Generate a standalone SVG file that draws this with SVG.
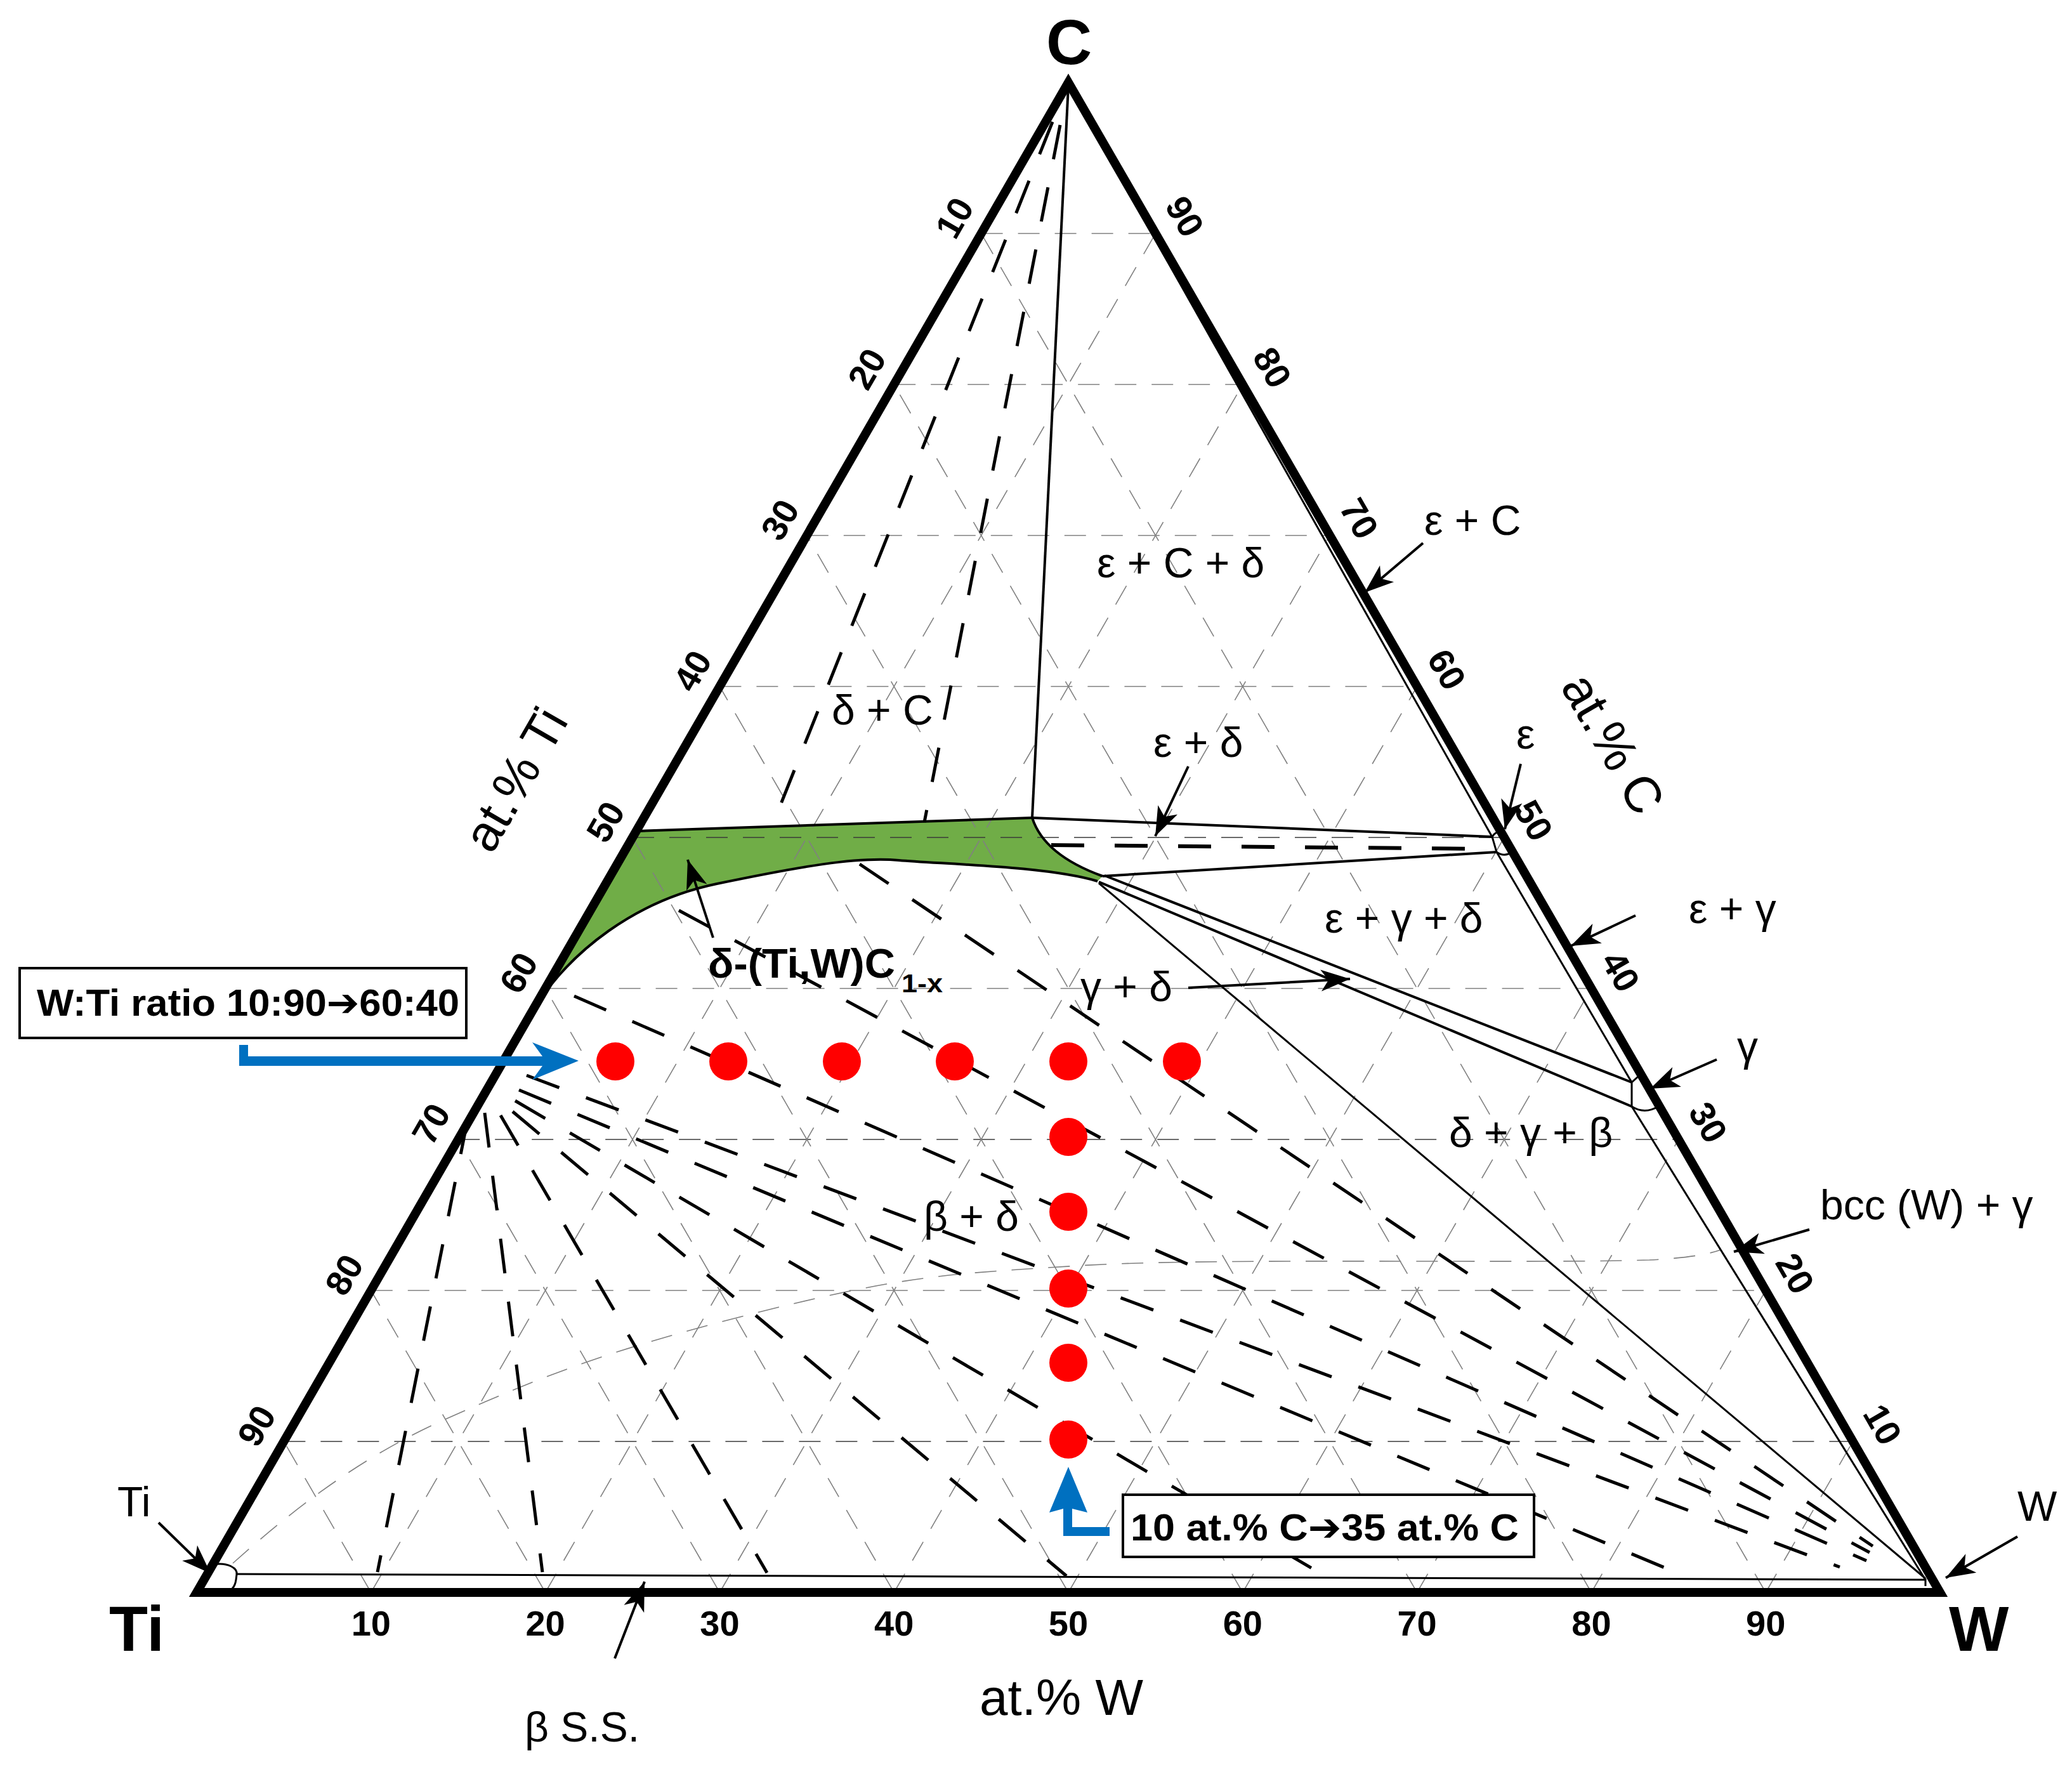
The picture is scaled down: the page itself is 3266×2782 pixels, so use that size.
<svg xmlns="http://www.w3.org/2000/svg" width="3266" height="2782" viewBox="0 0 3266 2782">
<style>
text{font-family:"Liberation Sans",Arial,"DejaVu Sans",sans-serif;fill:#000}
.grid line,.grid path{stroke:#808080;stroke-width:1.6;stroke-dasharray:34 24;fill:none}
.grid line.dk{stroke:#3a3a3a}
.tie{stroke:#000;stroke-width:5;stroke-dasharray:55 45;fill:none}
.thin{stroke:#000;stroke-width:3;fill:none}
.med{stroke:#000;stroke-width:4;fill:none}
.ptr{stroke:#000;stroke-width:4;fill:none;marker-end:url(#ah)}
.ph{font-size:66px}
.tk{font-size:56px;font-weight:bold;text-anchor:middle}
.ax{font-size:80px;text-anchor:middle}
.corner{font-size:100px;font-weight:bold}
.dot{fill:#ff0000}
.blue{fill:#0070c0}
.box{fill:#fff;stroke:#000;stroke-width:4}
.bt{font-size:60px;font-weight:bold}
</style>
<defs>
<marker id="ah" markerUnits="userSpaceOnUse" viewBox="-50 -20 55 40" markerWidth="55" markerHeight="40" refX="0" refY="0" orient="auto">
<path d="M0,0 L-46,-17 L-34,0 L-46,17 Z" fill="#000"/>
</marker>
</defs>
<rect width="3266" height="2782" fill="#fff"/>

<g id="delta-region">
<path d="M1003,1310 L1627,1289 C1640,1330 1680,1360 1738,1381 L1730,1389 C1650,1365 1484,1362 1417,1356 C1350,1350 1260,1366 1130,1393 C1000,1420 900,1500 845,1585 Z" fill="#70ad47"/>
</g>

<g id="grid" class="grid">
<line class="dk" x1="447.4" y1="2272" x2="2920.6" y2="2272"/>
<line x1="584.8" y1="2034" x2="2783.2" y2="2034"/>
<line class="dk" x1="722.2" y1="1796" x2="2645.8" y2="1796"/>
<line x1="859.6" y1="1558" x2="2508.4" y2="1558"/>
<line class="dk" x1="997" y1="1320" x2="2371" y2="1320"/>
<line x1="1134.4" y1="1082" x2="2233.6" y2="1082"/>
<line x1="1271.8" y1="844" x2="2096.2" y2="844"/>
<line x1="1409.2" y1="606" x2="1958.8" y2="606"/>
<line x1="1546.6" y1="368" x2="1821.4" y2="368"/>
<line x1="584.8" y1="2510" x2="1821.4" y2="368"/>
<line x1="859.6" y1="2510" x2="1958.8" y2="606"/>
<line x1="1134.4" y1="2510" x2="2096.2" y2="844"/>
<line x1="1409.2" y1="2510" x2="2233.6" y2="1082"/>
<line x1="1684" y1="2510" x2="2371" y2="1320"/>
<line x1="1958.8" y1="2510" x2="2508.4" y2="1558"/>
<line x1="2233.6" y1="2510" x2="2645.8" y2="1796"/>
<line x1="2508.4" y1="2510" x2="2783.2" y2="2034"/>
<line x1="2783.2" y1="2510" x2="2920.6" y2="2272"/>
<line x1="584.8" y1="2510" x2="447.4" y2="2272"/>
<line x1="859.6" y1="2510" x2="584.8" y2="2034"/>
<line x1="1134.4" y1="2510" x2="722.2" y2="1796"/>
<line x1="1409.2" y1="2510" x2="859.6" y2="1558"/>
<line x1="1684" y1="2510" x2="997" y2="1320"/>
<line x1="1958.8" y1="2510" x2="1134.4" y2="1082"/>
<line x1="2233.6" y1="2510" x2="1271.8" y2="844"/>
<line x1="2508.4" y1="2510" x2="1409.2" y2="606"/>
<line x1="2783.2" y1="2510" x2="1546.6" y2="368"/>
<path d="M367,2464 C450,2390 560,2300 702,2237 C844,2174 950,2130 1193,2069 C1436,2008 1500,2008 1700,1995 C1900,1982 2400,1992 2600,1986 Q2680,1982 2712,1970"/>
</g>

<g id="connectors">
<line class="tie" x1="1659" y1="192" x2="1217" y2="1302"/>
<line class="tie" x1="1671" y1="197" x2="1457" y2="1296"/>
<line class="tie" x1="737" y1="1765" x2="595" y2="2478"/>
<line class="tie" x1="764" y1="1754" x2="855" y2="2478"/>
<line class="tie" x1="789" y1="1758" x2="1209" y2="2479"/>
<line class="tie" x1="808" y1="1752" x2="1681" y2="2484"/>
<line class="tie" x1="812" y1="1735" x2="2085" y2="2482"/>
<line class="tie" x1="818" y1="1718" x2="2660" y2="2486"/>
<line class="tie" x1="830" y1="1695" x2="2900" y2="2470"/>
<line class="tie" x1="905" y1="1570" x2="2942" y2="2460"/>
<line class="tie" x1="1070" y1="1435" x2="2947" y2="2447"/>
<line class="tie" x1="1355" y1="1362" x2="2952" y2="2437"/>
<line x1="1657" y1="1332" x2="2352" y2="1338" stroke="#000" stroke-width="6" stroke-dasharray="52 48"/>
<line class="med" x1="1684" y1="135" x2="1627" y2="1289"/>
<path class="med" d="M1003,1310 L1627,1289" stroke-width="5"/>
<path class="med" d="M1627,1289 C1640,1330 1680,1360 1738,1381"/>
<path class="med" d="M1730,1389 C1650,1365 1484,1362 1417,1356 C1350,1350 1260,1366 1130,1393 C1000,1420 900,1500 845,1585"/>
<line class="med" x1="1627" y1="1289" x2="2352" y2="1319"/>
<line class="med" x1="1738" y1="1381" x2="2359" y2="1343"/>
<line class="med" x1="1741" y1="1380" x2="2572" y2="1706"/>
<line class="med" x1="1732" y1="1390" x2="2572" y2="1744"/>
<line class="thin" x1="1732" y1="1392" x2="3035" y2="2488"/>
<line class="thin" x1="1684" y1="135" x2="2352" y2="1319"/>
<line class="thin" x1="2359" y1="1343" x2="2572" y2="1706"/>
<line class="thin" x1="2572" y1="1744" x2="3035" y2="2490"/>
<path class="thin" d="M2368,1310 Q2356,1311 2352,1319 L2359,1343 Q2372,1352 2384,1342"/>
<path class="thin" d="M2582,1697 L2572,1706 L2572,1744 Q2592,1757 2614,1744"/>
<line class="thin" x1="373" y1="2481" x2="3035" y2="2490"/>
<path class="thin" d="M335,2466 C360,2462 375,2472 373,2482 L372,2490 C371,2497 368,2502 366,2504"/>
<path class="thin" d="M3035,2488 L3035,2500"/>
<line class="ptr" x1="2243" y1="856" x2="2151" y2="934"/>
<line class="ptr" x1="2397" y1="1204" x2="2372" y2="1307"/>
<line class="ptr" x1="1873" y1="1208" x2="1821" y2="1318"/>
<line class="ptr" x1="2578" y1="1443" x2="2476" y2="1491"/>
<line class="ptr" x1="2706" y1="1670" x2="2601" y2="1716"/>
<line class="ptr" x1="1873" y1="1557" x2="2128" y2="1543"/>
<line class="ptr" x1="2852" y1="1938" x2="2733" y2="1973"/>
<line class="ptr" x1="250" y1="2400" x2="332" y2="2480"/>
<line class="ptr" x1="3180" y1="2422" x2="3067" y2="2487"/>
<line class="ptr" x1="969" y1="2614" x2="1016" y2="2493"/>
<line class="ptr" x1="1124" y1="1478" x2="1084" y2="1355"/>
</g>

<g id="triangle">
<polygon points="310,2510 3058,2510 1684,130" fill="none" stroke="#000" stroke-width="14" stroke-linejoin="miter"/>
</g>

<g id="ticks">
<text class="tk" transform="translate(1504,343) rotate(-60)" y="20">10</text>
<text class="tk" transform="translate(1366,581) rotate(-60)" y="20">20</text>
<text class="tk" transform="translate(1229,819) rotate(-60)" y="20">30</text>
<text class="tk" transform="translate(1091,1057) rotate(-60)" y="20">40</text>
<text class="tk" transform="translate(954,1295) rotate(-60)" y="20">50</text>
<text class="tk" transform="translate(817,1533) rotate(-60)" y="20">60</text>
<text class="tk" transform="translate(679,1771) rotate(-60)" y="20">70</text>
<text class="tk" transform="translate(542,2009) rotate(-60)" y="20">80</text>
<text class="tk" transform="translate(404,2247) rotate(-60)" y="20">90</text>
<text class="tk" transform="translate(2968,2245) rotate(60)" y="20">10</text>
<text class="tk" transform="translate(2830,2007) rotate(60)" y="20">20</text>
<text class="tk" transform="translate(2693,1769) rotate(60)" y="20">30</text>
<text class="tk" transform="translate(2555,1531) rotate(60)" y="20">40</text>
<text class="tk" transform="translate(2418,1293) rotate(60)" y="20">50</text>
<text class="tk" transform="translate(2281,1055) rotate(60)" y="20">60</text>
<text class="tk" transform="translate(2143,817) rotate(60)" y="20">70</text>
<text class="tk" transform="translate(2006,579) rotate(60)" y="20">80</text>
<text class="tk" transform="translate(1868,341) rotate(60)" y="20">90</text>
<text class="tk" x="584.8" y="2578">10</text>
<text class="tk" x="859.6" y="2578">20</text>
<text class="tk" x="1134.4" y="2578">30</text>
<text class="tk" x="1409.2" y="2578">40</text>
<text class="tk" x="1684" y="2578">50</text>
<text class="tk" x="1958.8" y="2578">60</text>
<text class="tk" x="2233.6" y="2578">70</text>
<text class="tk" x="2508.4" y="2578">80</text>
<text class="tk" x="2783.2" y="2578">90</text>
</g>

<g id="axis-titles">
<text class="ax" transform="translate(812,1228) rotate(-60)" y="28">at.% Ti</text>
<text class="ax" transform="translate(2543,1172) rotate(60)" y="28">at.% C</text>
<text class="ax" x="1673" y="2703">at.% W</text>
</g>

<g id="corners">
<text class="corner" x="1685" y="101" text-anchor="middle">C</text>
<text class="corner" x="172" y="2602">Ti</text>
<text class="corner" x="3072" y="2602">W</text>
</g>

<g id="phase-labels">
<text class="ph" x="1729" y="910">ε + C + δ</text>
<text class="ph" x="1311" y="1142">δ + C</text>
<text class="ph" x="1818" y="1193">ε + δ</text>
<text class="ph" x="2245" y="843">ε + C</text>
<text class="ph" x="2390" y="1180">ε</text>
<text class="ph" x="2662" y="1455">ε + γ</text>
<text class="ph" x="2088" y="1470">ε + γ + δ</text>
<text class="ph" x="1703" y="1578">γ + δ</text>
<text class="ph" x="2738" y="1672">γ</text>
<text class="ph" x="2284" y="1808">δ + γ + β</text>
<text class="ph" x="2869" y="1922">bcc (W) + γ</text>
<text class="ph" x="1456" y="1940">β + δ</text>
<text class="ph" x="185" y="2390">Ti</text>
<text class="ph" x="3180" y="2397">W</text>
<text class="ph" x="827" y="2745">β S.S.</text>
</g>

<g id="delta-label">
<text x="1116" y="1541" font-size="64" font-weight="bold" textLength="295" lengthAdjust="spacingAndGlyphs">δ-(Ti,W)C</text>
<text x="1421" y="1564" font-size="40" font-weight="bold" textLength="65" lengthAdjust="spacingAndGlyphs">1-x</text>
</g>

<g id="samples">
<circle class="dot" cx="970" cy="1673" r="30"/>
<circle class="dot" cx="1148" cy="1673" r="30"/>
<circle class="dot" cx="1327" cy="1673" r="30"/>
<circle class="dot" cx="1505" cy="1673" r="30"/>
<circle class="dot" cx="1684" cy="1673" r="30"/>
<circle class="dot" cx="1863" cy="1673" r="30"/>
<circle class="dot" cx="1684" cy="1792" r="30"/>
<circle class="dot" cx="1684" cy="1910" r="30"/>
<circle class="dot" cx="1684" cy="2031" r="30"/>
<circle class="dot" cx="1684" cy="2148" r="30"/>
<circle class="dot" cx="1684" cy="2269" r="30"/>
</g>

<g id="ratio-box">
<rect class="box" x="31" y="1526" width="704" height="110"/>
<text class="bt" x="58" y="1601" textLength="666" lengthAdjust="spacingAndGlyphs">W:Ti ratio 10:90➔60:40</text>
<polygon class="blue" points="377,1647 391,1647 391,1665 855,1665 839,1643 912,1672 839,1702 855,1680 377,1680"/>
</g>

<g id="carbon-box">
<rect class="box" x="1770" y="2356" width="648" height="98"/>
<text class="bt" x="1782" y="2428" textLength="612" lengthAdjust="spacingAndGlyphs">10 at.% C➔35 at.% C</text>
<polygon class="blue" points="1676,2421 1676,2378 1654,2384 1684,2312 1714,2384 1690,2378 1690,2407 1749,2407 1749,2421"/>
</g>
</svg>
